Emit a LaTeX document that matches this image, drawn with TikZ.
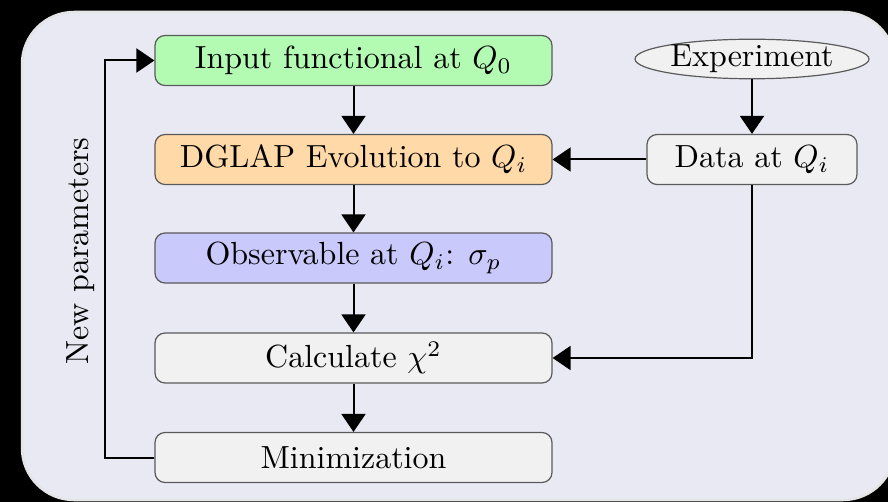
\documentclass[tikz,border=0pt]{standalone}
\usepackage{graphicx}
\usetikzlibrary{arrows.meta,shapes.geometric,positioning}
\definecolor{panelfill}{HTML}{E9E9F4}
\definecolor{inputfill}{HTML}{B3FBB3}
\definecolor{dglapfill}{HTML}{FFD9A8}
\definecolor{obsfill}{HTML}{C9C9FB}
\definecolor{plainfill}{HTML}{F1F1F1}
\definecolor{boxline}{HTML}{5A5A5A}
% labels keep the 10pt design of the font, enlarged
\newcommand{\lbl}[1]{\scalebox{3.2}{#1}}
\tikzset{
  flowbox/.style={rectangle, rounded corners=10pt, draw=boxline, line width=1.2pt,
    minimum width=397pt, minimum height=50pt, inner sep=0pt},
  databox/.style={flowbox, minimum width=210pt, fill=plainfill},
  source/.style={ellipse, draw=boxline, line width=1.2pt, fill=plainfill,
    minimum width=234pt, minimum height=39pt, inner sep=0pt},
  flow/.style={-{Triangle[length=18pt,width=24pt]}, line width=2pt, black},
}
\begin{document}
\begin{tikzpicture}[x=1pt,y=-1pt]
  % page background and rounded panel
  \fill[black] (0,0) rectangle (888,502);
  \useasboundingbox (0,0) rectangle (888,502);
  \draw[fill=panelfill, draw=white!80!gray, line width=2.5pt, rounded corners=52pt]
    (22,12) rectangle (895,500);

  % main chain
  \node[flowbox, fill=inputfill] (input) at (353.5,60.5) {\lbl{Input functional at $Q_0$}};
  \node[flowbox, fill=dglapfill] (dglap) at (353.5,159.5) {\lbl{DGLAP Evolution to $Q_i$}};
  \node[flowbox, fill=obsfill]   (obs)   at (353.5,258)   {\lbl{Observable at $Q_i$: $\sigma_p$}};
  \node[flowbox, fill=plainfill] (chi)   at (353.5,358)   {\lbl{Calculate $\chi^2$}};
  \node[flowbox, fill=plainfill] (mini)  at (353.5,457.5) {\lbl{Minimization}};

  % data branch
  \node[source]  (exp)  at (752,59)    {\lbl{Experiment}};
  \node[databox] (data) at (752,159.5) {\lbl{Data at $Q_i$}};

  % connectors
  \draw[flow] (input) -- (dglap);
  \draw[flow] (dglap) -- (obs);
  \draw[flow] (obs) -- (chi);
  \draw[flow] (chi) -- (mini);
  \draw[flow] (exp) -- (data);
  \draw[flow] (data) -- (dglap);
  \draw[flow] (data.south) |- (chi.east);

  \coordinate (loop) at (105,457.5);
  \draw[flow] (mini.west) -- (loop) |- (input.west);

  \node[rotate=90] (newpar) at (81,251) {\lbl{New parameters}};
\end{tikzpicture}
\end{document}
